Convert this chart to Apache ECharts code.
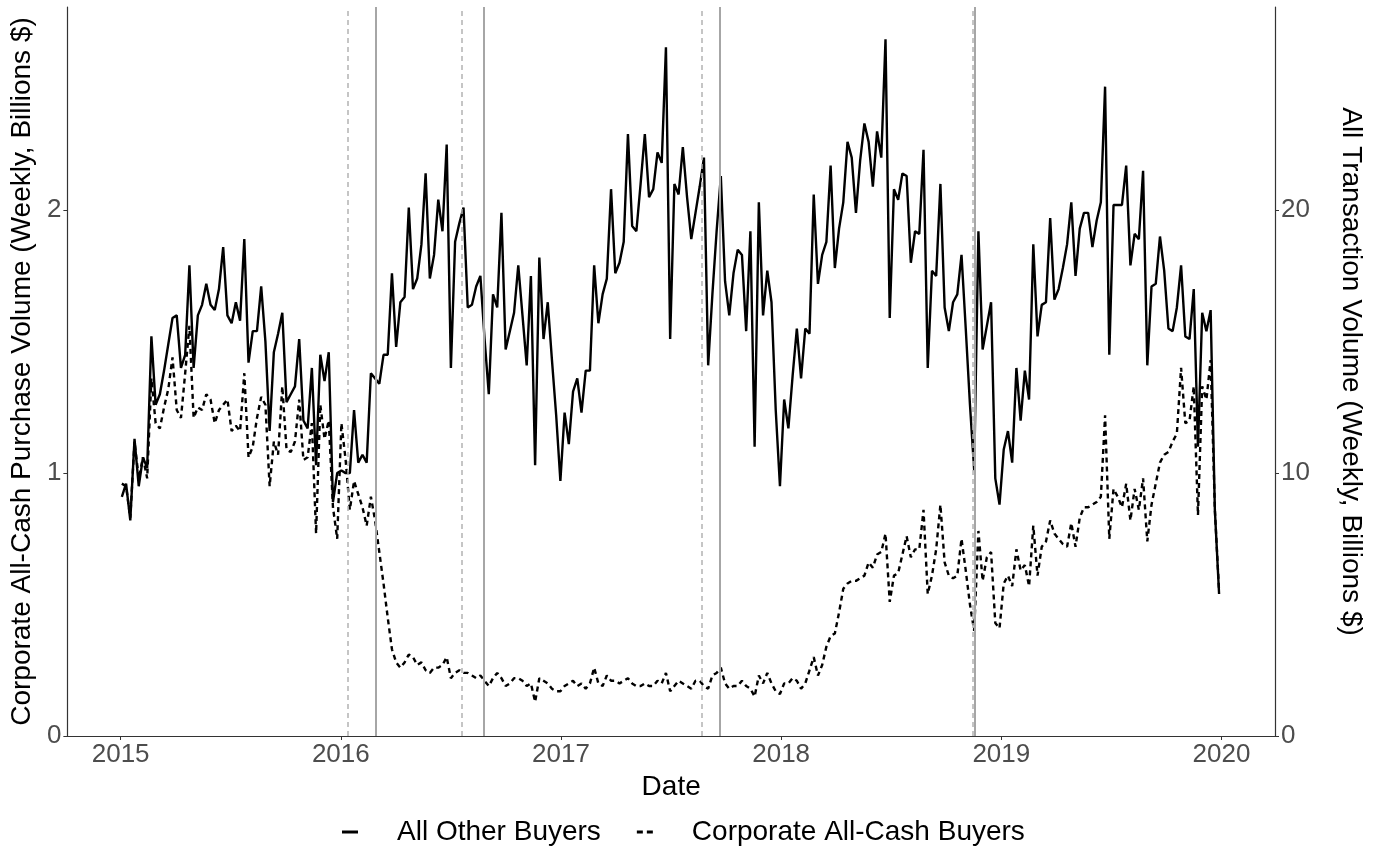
<!DOCTYPE html>
<html><head><meta charset="utf-8">
<script src="https://cdn.jsdelivr.net/npm/echarts@6/dist/echarts.min.js"></script>
<style>html,body{margin:0;padding:0;background:#fff}#c{width:1388px;height:852px}</style>
</head><body><div id="c"></div>
<script>
// first weekly observation; each following value is one week later
const firstWeek = '2015-01-03';

// All Other Buyers – all transaction volume (weekly, billions $), right axis
const otherBuyers = [
  9.1, 9.6, 8.2, 11.3, 9.5, 10.6, 10.2, 15.2, 12.6, 13.0,
  13.9, 14.9, 15.9, 16.0, 14.0, 14.5, 17.9, 14.0, 16.0, 16.4,
  17.2, 16.4, 16.2, 17.0, 18.6, 16.0, 15.7, 16.5, 15.8, 18.9,
  14.2, 15.4, 15.4, 17.1, 15.0, 11.6, 14.6, 15.3, 16.1, 12.7,
  13.0, 13.3, 15.1, 12.0, 11.7, 14.0, 10.3, 14.5, 13.5, 14.6,
  8.9, 10.0, 10.1, 10.0, 10.0, 12.4, 10.4, 10.7, 10.4, 13.8,
  13.6, 13.4, 14.5, 14.5, 17.6, 14.8, 16.5, 16.7, 20.1, 17.0,
  17.4, 18.7, 21.4, 17.4, 18.3, 20.4, 19.2, 22.5, 14.0, 18.8,
  19.5, 20.1, 16.3, 16.4, 17.1, 17.5, 15.1, 13.0, 16.8, 16.3,
  19.9, 14.7, 15.4, 16.1, 17.9, 16.0, 14.1, 17.5, 10.3, 18.2,
  15.1, 16.5, 14.3, 12.2, 9.7, 12.3, 11.1, 13.1, 13.6, 12.3,
  13.9, 13.9, 17.9, 15.7, 16.8, 17.4, 20.8, 17.6, 18.0, 18.8,
  22.9, 19.4, 19.2, 21.0, 22.9, 20.5, 20.8, 22.2, 21.8, 26.2,
  15.1, 21.0, 20.6, 22.4, 20.5, 18.9, 19.9, 20.9, 22.0, 14.1,
  16.8, 19.2, 21.3, 17.3, 16.0, 17.6, 18.5, 18.3, 15.4, 19.2,
  11.0, 20.3, 16.0, 17.7, 16.5, 12.4, 9.5, 12.8, 11.7, 13.7,
  15.5, 13.6, 15.5, 15.3, 20.6, 17.2, 18.3, 18.8, 21.7, 17.8,
  19.3, 20.3, 22.6, 22.0, 19.9, 21.9, 23.3, 22.6, 20.9, 23.0,
  22.0, 26.5, 15.9, 20.8, 20.4, 21.4, 21.3, 18.0, 19.2, 19.1,
  22.3, 14.0, 17.7, 17.5, 21.0, 16.3, 15.4, 16.5, 16.8, 18.3,
  15.5, 12.6, 10.1, 19.2, 14.7, 15.6, 16.5, 9.8, 8.8, 10.9,
  11.6, 10.4, 14.0, 12.0, 13.9, 12.8, 18.7, 15.2, 16.4, 16.5,
  19.7, 16.6, 17.0, 17.8, 18.7, 20.3, 17.5, 19.3, 19.9, 19.9,
  18.6, 19.6, 20.3, 24.7, 14.5, 20.2, 20.2, 20.2, 21.7, 17.9,
  19.1, 18.9, 21.5, 14.1, 17.1, 17.2, 19.0, 17.7, 15.5, 15.4,
  16.3, 17.9, 15.2, 15.1, 17.0, 11.0, 16.1, 15.4, 16.2, 8.6,
  5.4
];

// Corporate All-Cash Buyers – purchase volume (weekly, billions $), left axis
const corporateCash = [
  0.96, 0.95, 0.83, 1.12, 0.98, 1.06, 0.98, 1.36, 1.19, 1.17,
  1.25, 1.32, 1.44, 1.24, 1.21, 1.38, 1.56, 1.21, 1.25, 1.24,
  1.30, 1.28, 1.19, 1.24, 1.26, 1.28, 1.16, 1.18, 1.16, 1.38,
  1.06, 1.10, 1.21, 1.29, 1.26, 0.95, 1.12, 1.07, 1.33, 1.09,
  1.08, 1.12, 1.28, 1.05, 1.06, 1.19, 0.77, 1.26, 1.13, 1.20,
  0.87, 0.75, 1.19, 1.05, 0.86, 0.97, 0.92, 0.87, 0.80, 0.91,
  0.82, 0.70, 0.58, 0.45, 0.33, 0.28, 0.26, 0.28, 0.31, 0.30,
  0.27, 0.28, 0.25, 0.24, 0.26, 0.26, 0.27, 0.30, 0.22, 0.24,
  0.25, 0.24, 0.24, 0.23, 0.22, 0.23, 0.21, 0.19, 0.22, 0.24,
  0.22, 0.19, 0.20, 0.22, 0.22, 0.21, 0.19, 0.20, 0.13, 0.22,
  0.21, 0.20, 0.18, 0.17, 0.17, 0.19, 0.20, 0.21, 0.19, 0.20,
  0.18, 0.20, 0.26, 0.20, 0.19, 0.23, 0.21, 0.21, 0.20, 0.21,
  0.22, 0.20, 0.19, 0.19, 0.20, 0.19, 0.19, 0.21, 0.20, 0.24,
  0.17, 0.19, 0.21, 0.20, 0.19, 0.18, 0.21, 0.21, 0.19, 0.18,
  0.23, 0.24, 0.26, 0.20, 0.18, 0.19, 0.19, 0.21, 0.19, 0.18,
  0.15, 0.23, 0.20, 0.24, 0.20, 0.17, 0.16, 0.20, 0.20, 0.22,
  0.21, 0.18, 0.20, 0.25, 0.30, 0.23, 0.27, 0.34, 0.38, 0.39,
  0.47, 0.56, 0.58, 0.59, 0.59, 0.60, 0.61, 0.66, 0.64, 0.69,
  0.70, 0.77, 0.51, 0.61, 0.62, 0.69, 0.76, 0.68, 0.71, 0.71,
  0.86, 0.54, 0.61, 0.71, 0.88, 0.66, 0.61, 0.60, 0.61, 0.75,
  0.63, 0.50, 0.40, 0.78, 0.59, 0.68, 0.70, 0.43, 0.41, 0.58,
  0.61, 0.57, 0.71, 0.63, 0.65, 0.57, 0.80, 0.61, 0.72, 0.74,
  0.82, 0.77, 0.75, 0.73, 0.72, 0.81, 0.72, 0.83, 0.87, 0.87,
  0.88, 0.89, 0.91, 1.22, 0.75, 0.94, 0.91, 0.87, 0.96, 0.82,
  0.94, 0.86, 0.98, 0.74, 0.88, 0.96, 1.04, 1.07, 1.08, 1.12,
  1.15, 1.40, 1.19, 1.20, 1.33, 0.84, 1.33, 1.28, 1.43, 0.86,
  0.55
];

// event dates (vertical reference lines)
const dashedEvents = ['2016-01-11', '2016-07-20', '2017-08-23', '2018-11-14'];
const solidEvents  = ['2016-02-29', '2016-08-26', '2017-09-22', '2018-11-17'];

const yearTicks  = [2015, 2016, 2017, 2018, 2019, 2020];
const leftTicks  = [0, 1, 2];
const rightTicks = [0, 10, 20];

function parseDate(s) { const p = s.split('-').map(Number); return new Date(Date.UTC(p[0], p[1] - 1, p[2])); }
function decYear(d) {
  const y = d.getUTCFullYear();
  const s = Date.UTC(y, 0, 1), e = Date.UTC(y + 1, 0, 1);
  return y + (d.getTime() - s) / (e - s);
}
const start = parseDate(firstWeek);
const weekX = otherBuyers.map((_, i) => decYear(new Date(start.getTime() + i * 7 * 864e5)));

const FONT = '"Liberation Sans", Arial, Helvetica, sans-serif';
const chart = echarts.init(document.getElementById('c'), null, { renderer: 'canvas' });

const solidKey  = 'path://M0,0 L16,0 L16,3 L0,3 Z';
const dashedKey = 'path://M0,0 L6,0 L6,3 L0,3 Z M10,0 L16,0 L16,3 L10,3 Z';

chart.setOption({
  backgroundColor: '#fff',
  animation: false,
  textStyle: { fontFamily: FONT },
  grid: { left: 65, right: 113, top: 7, bottom: 116, containLabel: false },
  legend: {
    bottom: 1,
    left: 337,
    data: [
      { name: 'All Other Buyers', icon: solidKey },
      { name: 'Corporate All-Cash Buyers', icon: dashedKey }
    ],
    itemWidth: 16,
    itemHeight: 14,
    itemGap: 36,
    itemStyle: { color: '#000', borderWidth: 0 },
    lineStyle: { width: 0 },
    textStyle: { fontSize: 28, color: '#000', fontFamily: FONT, padding: [0, 0, 0, 34] }
  },
  xAxis: {
    type: 'value',
    min: 2014.758,
    max: 2020.243,
    name: 'Date',
    nameLocation: 'middle',
    nameGap: 37,
    nameTextStyle: { fontSize: 28, color: '#000', fontFamily: FONT },
    axisLine: { show: true, onZero: false, lineStyle: { color: '#333', width: 1.2 } },
    axisTick: { show: true, length: 4, customValues: yearTicks, lineStyle: { color: '#333' } },
    axisLabel: { customValues: yearTicks, formatter: v => String(Math.round(v)), fontSize: 26, color: '#4d4d4d', margin: 6, fontFamily: FONT },
    splitLine: { show: false }
  },
  yAxis: [
    {
      type: 'value', min: 0, max: 2.773, position: 'left',
      name: 'Corporate All-Cash Purchase Volume (Weekly, Billions $)',
      nameLocation: 'middle', nameRotate: 90, nameGap: 20,
      nameTextStyle: { fontSize: 28, color: '#000', fontFamily: FONT },
      axisLine: { show: true, onZero: false, lineStyle: { color: '#333', width: 1.2 } },
      axisTick: { show: true, length: 4, customValues: leftTicks, lineStyle: { color: '#333' } },
      axisLabel: { customValues: leftTicks, fontSize: 26, color: '#4d4d4d', margin: 6, fontFamily: FONT },
      splitLine: { show: false }
    },
    {
      type: 'value', min: 0, max: 27.73, position: 'right',
      name: 'All Transaction Volume (Weekly, Billions $)',
      nameLocation: 'middle', nameRotate: -90, nameGap: 62,
      nameTextStyle: { fontSize: 28, color: '#000', fontFamily: FONT },
      axisLine: { show: true, onZero: false, lineStyle: { color: '#333', width: 1.2 } },
      axisTick: { show: true, length: 4, customValues: rightTicks, lineStyle: { color: '#333' } },
      axisLabel: { customValues: rightTicks, fontSize: 26, color: '#4d4d4d', margin: 6, fontFamily: FONT },
      splitLine: { show: false }
    }
  ],
  series: [
    {
      name: 'events',
      type: 'line',
      yAxisIndex: 0,
      data: [],
      silent: true,
      z: 1,
      markLine: {
        silent: true,
        symbol: ['none', 'none'],
        label: { show: false },
        animation: false,
        data: [
          ...dashedEvents.map(d => ({ xAxis: decYear(parseDate(d)), lineStyle: { color: '#b3b3b3', width: 1.5, type: [5, 4] } })),
          ...solidEvents.map(d => ({ xAxis: decYear(parseDate(d)), lineStyle: { color: '#a6a6a6', width: 2, type: 'solid' } }))
        ]
      }
    },
    {
      name: 'All Other Buyers',
      type: 'line',
      yAxisIndex: 1,
      data: weekX.map((x, i) => [x, otherBuyers[i]]),
      symbol: 'none',
      showSymbol: false,
      z: 3,
      lineStyle: { color: '#000', width: 2.4, type: 'solid' },
      itemStyle: { color: '#000' }
    },
    {
      name: 'Corporate All-Cash Buyers',
      type: 'line',
      yAxisIndex: 0,
      data: weekX.map((x, i) => [x, corporateCash[i]]),
      symbol: 'none',
      showSymbol: false,
      z: 3,
      lineStyle: { color: '#000', width: 2.4, type: [5, 4] },
      itemStyle: { color: '#000' }
    }
  ]
});
</script>
</body></html>
